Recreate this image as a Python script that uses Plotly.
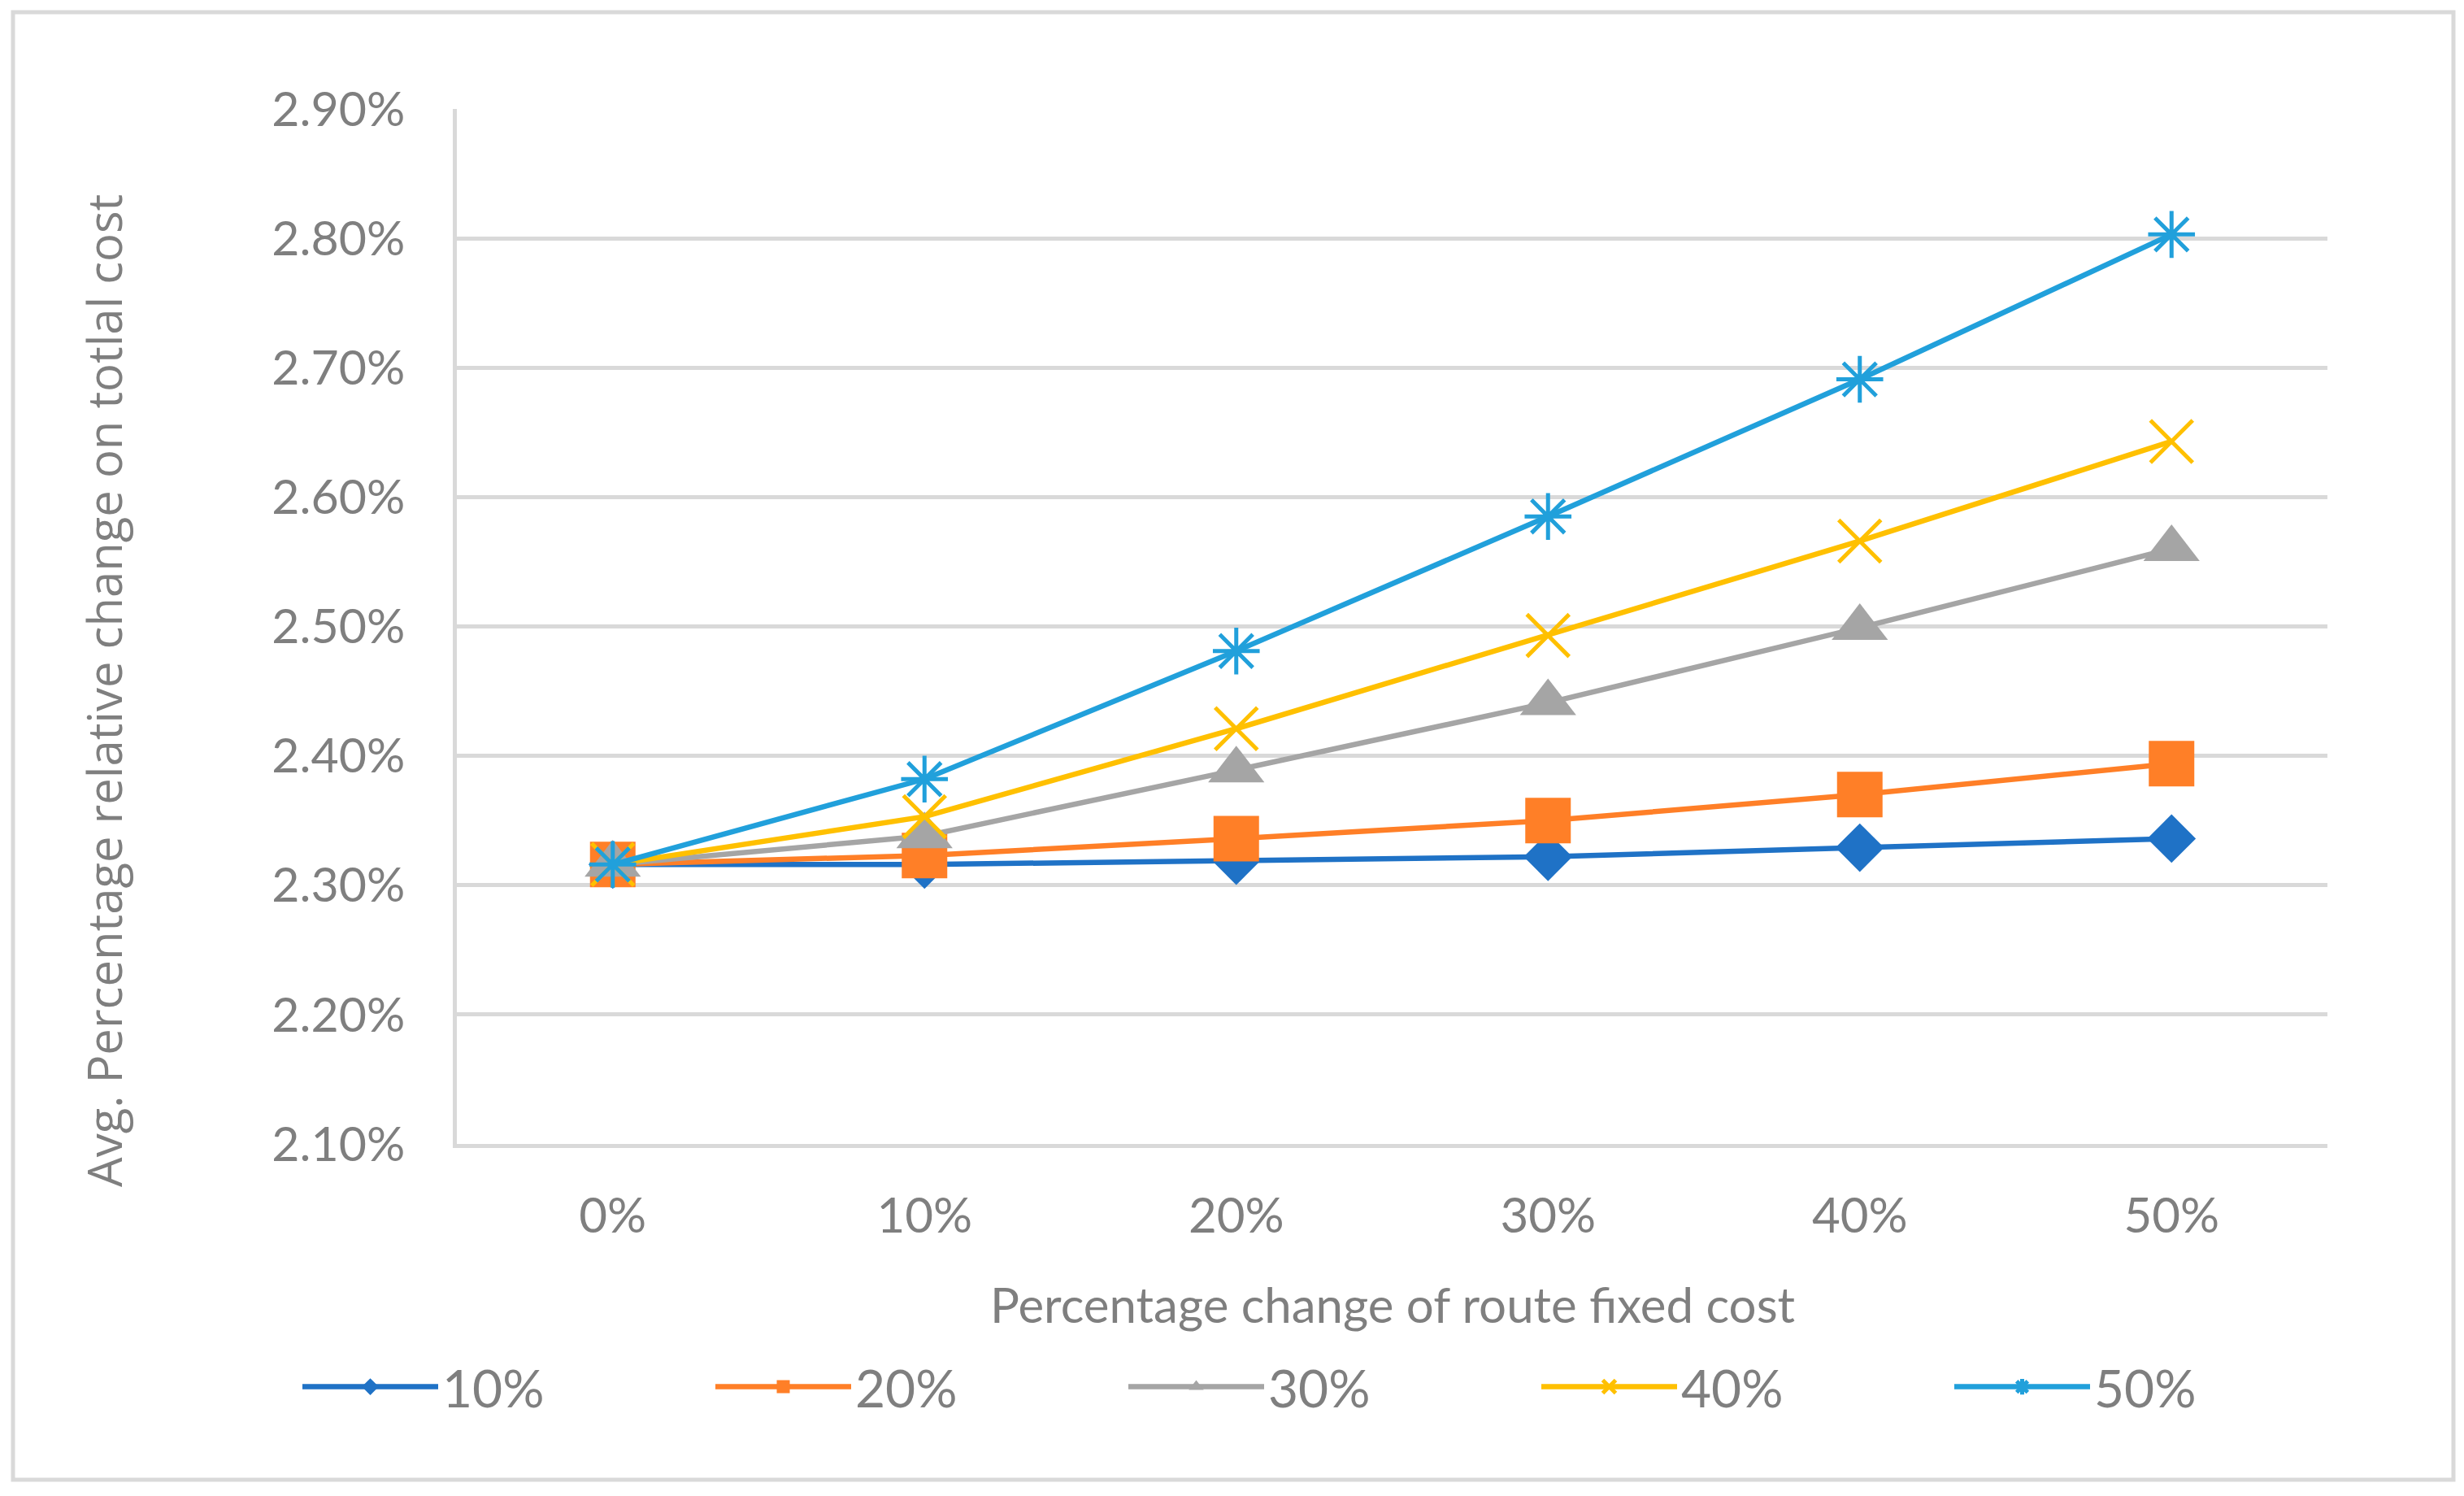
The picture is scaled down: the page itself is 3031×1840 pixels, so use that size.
import plotly.graph_objects as go

# ---- data (values in percent) ----
categories = ["0%", "10%", "20%", "30%", "40%", "50%"]
series_names = ["10%", "20%", "30%", "40%", "50%"]
s10 = [2.316, 2.316, 2.319, 2.322, 2.329, 2.336]
s20 = [2.316, 2.323, 2.336, 2.350, 2.370, 2.394]
s30 = [2.316, 2.338, 2.389, 2.441, 2.499, 2.560]
s40 = [2.316, 2.353, 2.421, 2.493, 2.566, 2.643]
s50 = [2.316, 2.382, 2.481, 2.585, 2.691, 2.803]
series_values = [s10, s20, s30, s40, s50]

x_title = "Percentage change of route fixed cost"
y_title = "Avg. Percentage relative change on totlal cost"

# ---- styles ----
colors = ["#1F72C6", "#FF7F27", "#A5A5A5", "#FFC000", "#21A0DB"]
symbols = ["diamond", "square", "triangle-up", "x-thin-open", "asterisk-open"]
sizes = [46, 56, 60, 52, 48]

W, H = 3031, 1840
OFF = 8  # page body margin
L, R, T, B = 562 - OFF, 2863 - OFF, 134 - OFF, 1407 - OFF  # plot area in pixels
TXT = "#7F7F7F"
GRID = "#D9D9D9"

def px_x(px):
    return (px - OFF - L) / (R - L)

def px_y(py):
    return (B - (py - OFF)) / (B - T)

fig = go.Figure()
for name, vals, c, sym, sz in zip(series_names, series_values, colors, symbols, sizes):
    open_sym = sym.endswith("open")
    fig.add_trace(go.Scatter(
        x=categories, y=vals, name=name, mode="lines+markers",
        line=dict(color=c, width=6.5),
        marker=dict(symbol=sym, size=sz, color=c,
                    line=dict(color=c, width=5 if open_sym else 0)),
    ))

ITEMW = 167
fig.update_layout(
    width=W, height=H,
    margin=dict(l=L, r=W - R, t=T, b=H - B, pad=0),
    paper_bgcolor="white", plot_bgcolor="white",
    font=dict(family="Lato", color=TXT, size=58),
    showlegend=True,
    legend=dict(
        orientation="h", x=px_x(367), y=px_y(1706), xanchor="left", yanchor="middle",
        font=dict(family="Lato", size=64, color=TXT),
        entrywidth=506 - ITEMW - 13, entrywidthmode="pixels", itemwidth=ITEMW,
        bgcolor="rgba(0,0,0,0)",
    ),
    xaxis=dict(
        type="category", range=[-0.5, 5.5], showgrid=False, zeroline=False,
        showline=True, linecolor=GRID, linewidth=5, ticks="",
        tickfont=dict(family="Lato", size=60, color=TXT), ticklabelstandoff=32,
    ),
    yaxis=dict(
        range=[2.10, 2.90], dtick=0.10, tick0=2.10, tickformat=".2f", ticksuffix="%",
        showgrid=True, gridcolor=GRID, gridwidth=5, zeroline=False,
        showline=True, linecolor=GRID, linewidth=5, ticks="",
        tickfont=dict(family="Lato", size=59, color=TXT), ticklabelstandoff=47,
    ),
    annotations=[
        dict(text=x_title, xref="paper", yref="paper", x=0.5, y=px_y(1604),
             xanchor="center", yanchor="middle", showarrow=False,
             font=dict(family="Lato", size=60, color=TXT)),
        dict(text=y_title, xref="paper", yref="paper", x=px_x(128), y=px_y(850),
             xanchor="center", yanchor="middle", showarrow=False, textangle=-90,
             font=dict(family="Open Sans", size=58, color=TXT)),
    ],
    shapes=[
        dict(type="rect", xref="paper", yref="paper",
             x0=px_x(16), x1=px_x(3018), y0=px_y(1820), y1=px_y(15),
             line=dict(color=GRID, width=5), fillcolor="rgba(0,0,0,0)", layer="below"),
    ],
)

fig.write_html("out.html")
